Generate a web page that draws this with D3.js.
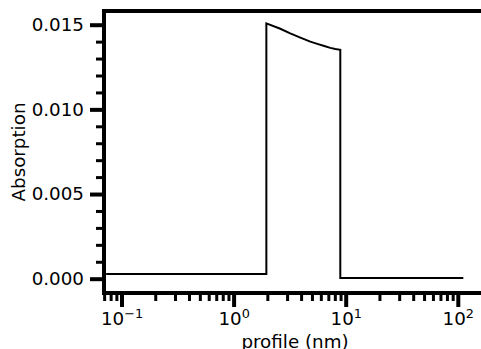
<!DOCTYPE html>
<html>
<head>
<meta charset="utf-8">
<script src="https://cdn.jsdelivr.net/npm/d3@7"></script>
<style>
  html, body { margin: 0; padding: 0; background: #fff; }
  svg { display: block; font-family: "DejaVu Sans", sans-serif; }
</style>
</head>
<body>
<div id="chart"></div>
<script>
// profile positions (nm) and absorption values
const profileNm = [0.073, 1.96, 1.96, 2.61, 3.2, 3.94, 4.83, 5.58, 6.44, 7.29, 8.08, 8.95, 8.95, 112];
const absorption = [0.00028, 0.00028, 0.01508, 0.01476, 0.01449, 0.01424, 0.01400, 0.01387, 0.01374, 0.01363, 0.01356, 0.01352, 0.00004, 0.00004];

const yMajor = [0, 0.005, 0.010, 0.015];
const yMinor = [0.001, 0.002, 0.003, 0.004, 0.006, 0.007, 0.008, 0.009, 0.011, 0.012, 0.013, 0.014];
const xMajor = [0.1, 1, 10, 100];
const xMinor = [];
[0.01, 0.1, 1, 10, 100].forEach(dec => { for (let k = 2; k <= 9; k++) xMinor.push(dec * k); });

const W = 481, H = 349;
const frame = { left: 104, right: 486, top: 11, bottom: 293 };
const fontSize = 18.3;

const svg = d3.select('#chart').append('svg')
  .attr('width', W).attr('height', H);

// scales pinned to where the labelled ticks sit
const x = d3.scaleLog().domain([0.1, 100]).range([121.5, 457.8]);
const y = d3.scaleLinear().domain([0, 0.015]).range([278.7, 24.7]);

const xLo = x.invert(frame.left), xHi = x.invert(frame.right);

// data line
const line = d3.line()
  .x((d, i) => x(profileNm[i]))
  .y((d, i) => y(absorption[i]));
svg.append('path')
  .datum(absorption)
  .attr('d', line)
  .attr('fill', 'none')
  .attr('stroke', '#000')
  .attr('stroke-width', 2)
  .attr('stroke-linejoin', 'miter');

// y axis
const gy = svg.append('g').attr('transform', `translate(${frame.left},0)`);
gy.append('g').attr('class', 'minor')
  .call(d3.axisLeft(y).tickValues(yMinor).tickFormat('').tickSize(8));
gy.append('g').attr('class', 'major')
  .call(d3.axisLeft(y).tickValues(yMajor).tickFormat(d3.format('.3f')).tickSize(14).tickPadding(6));
gy.selectAll('.domain').remove();
gy.selectAll('.minor .tick line').attr('stroke', '#000').attr('stroke-width', 3);
gy.selectAll('.major .tick line').attr('stroke', '#000').attr('stroke-width', 4);
gy.selectAll('text').attr('font-size', fontSize).attr('fill', '#000').attr('font-family', 'DejaVu Sans');

// x axis
const xMinorVis = xMinor.filter(d => d >= xLo && d <= xHi);
const gx = svg.append('g').attr('transform', `translate(0,${frame.bottom})`);
gx.append('g').attr('class', 'minor')
  .call(d3.axisBottom(x).tickValues(xMinorVis).tickFormat('').tickSize(8));
gx.append('g').attr('class', 'major')
  .call(d3.axisBottom(x).tickValues(xMajor).tickFormat('').tickSize(14));
gx.selectAll('.domain').remove();
gx.selectAll('.minor .tick line').attr('stroke', '#000').attr('stroke-width', 3);
gx.selectAll('.major .tick line').attr('stroke', '#000').attr('stroke-width', 4);

gx.selectAll('.major .tick').each(function(d) {
  const t = d3.select(this).append('text')
    .attr('y', 32)
    .attr('text-anchor', 'middle')
    .attr('font-size', fontSize)
    .attr('font-family', 'DejaVu Sans')
    .attr('fill', '#000');
  t.append('tspan').text('10');
  t.append('tspan')
    .attr('dy', -7.5)
    .attr('font-size', fontSize * 0.7)
    .text(Math.round(Math.log10(d)).toString().replace('-', '\u2212'));
});

// spines (right one falls outside the picture)
const spines = svg.append('g').attr('stroke', '#000').attr('stroke-width', 4).attr('stroke-linecap', 'square');
spines.append('line').attr('x1', frame.left).attr('x2', frame.left).attr('y1', frame.top).attr('y2', frame.bottom);
spines.append('line').attr('x1', frame.left).attr('x2', frame.right).attr('y1', frame.top).attr('y2', frame.top);
spines.append('line').attr('x1', frame.left).attr('x2', frame.right).attr('y1', frame.bottom).attr('y2', frame.bottom);

// axis labels
svg.append('text')
  .attr('x', (frame.left + frame.right) / 2).attr('y', 347.5)
  .attr('text-anchor', 'middle')
  .attr('font-size', fontSize)
  .attr('fill', '#000')
  .text('profile (nm)');

svg.append('text')
  .attr('transform', `translate(25,${(frame.top + frame.bottom) / 2}) rotate(-90)`)
  .attr('text-anchor', 'middle')
  .attr('font-size', fontSize)
  .attr('fill', '#000')
  .text('Absorption');
</script>
</body>
</html>
